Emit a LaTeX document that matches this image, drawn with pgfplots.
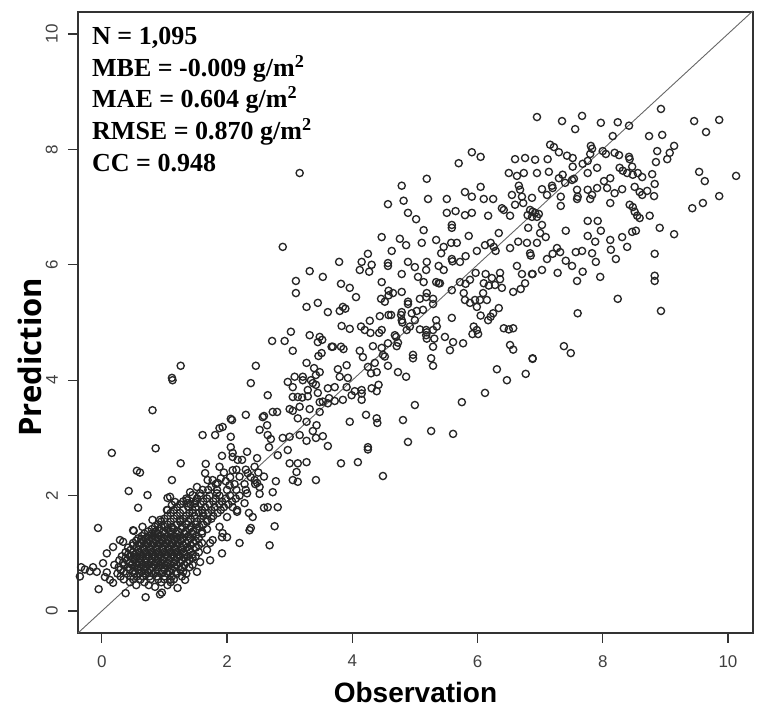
\documentclass[border=0pt]{standalone}
\usepackage{fontspec}
\setmainfont{Liberation Serif}
\newfontfamily\arial{Liberation Sans}
\newfontfamily\opensans{Open Sans}
\usepackage{pgfplots}
\pgfplotsset{compat=1.18}
\usepackage{pgfplotstable}
\pgfplotstableread{
x y
6.95 8.56
7.35 8.49
7.67 8.58
7.56 8.35
7.97 8.46
8.24 8.47
8.42 8.41
8.93 8.70
9.46 8.49
9.86 8.51
9.65 8.30
8.74 8.23
8.95 8.25
8.16 8.23
9.14 8.06
8.87 7.97
9.03 7.83
8.85 7.78
9.07 7.94
9.54 7.61
9.63 7.45
10.13 7.54
9.86 7.19
9.60 7.07
9.43 6.98
7.16 8.08
7.22 8.04
7.30 7.95
6.92 7.82
7.12 7.83
7.43 7.89
7.52 7.85
7.81 8.06
7.83 8.01
7.80 7.92
8.00 7.97
8.05 7.92
8.19 7.94
8.26 7.90
8.42 7.87
8.43 7.83
6.95 7.59
7.14 7.61
7.30 7.50
7.36 7.56
7.52 7.70
7.54 7.49
7.68 7.75
7.76 7.80
7.91 7.68
7.76 7.59
8.02 7.45
8.12 7.50
8.27 7.68
8.32 7.63
8.39 7.59
8.47 7.70
8.48 7.56
8.56 7.59
8.63 7.52
8.79 7.57
8.83 7.40
7.03 7.31
7.19 7.37
7.20 7.33
7.40 7.42
7.51 7.47
7.11 7.21
7.33 7.18
7.59 7.30
7.60 7.18
7.59 7.14
7.76 7.30
7.83 7.21
7.80 7.14
7.91 7.33
8.07 7.33
8.19 7.24
8.31 7.31
8.51 7.35
8.59 7.26
8.63 7.21
8.71 7.28
8.82 7.19
8.12 7.07
8.43 7.04
8.48 7.00
8.51 6.92
8.55 6.85
8.59 6.81
8.75 6.85
6.87 7.16
6.88 6.92
6.98 6.88
7.03 6.69
7.33 7.02
7.41 6.59
7.00 6.55
7.09 6.48
6.95 6.38
7.76 6.76
7.92 6.76
7.97 6.59
7.76 6.50
7.88 6.40
8.12 6.43
8.31 6.48
8.47 6.57
8.53 6.59
8.91 6.64
9.14 6.53
8.39 6.31
8.13 6.26
8.21 6.10
8.83 6.19
7.57 6.22
7.67 6.24
7.83 6.20
7.89 6.05
7.41 6.07
7.51 5.98
7.27 6.29
7.32 6.22
7.20 6.19
7.11 6.10
7.03 5.91
6.88 5.84
7.28 5.86
7.68 5.88
7.96 5.79
7.59 5.72
8.83 5.81
8.83 5.72
8.24 5.41
6.87 6.83
6.80 6.86
7.60 5.16
8.93 5.20
7.38 4.59
7.49 4.47
6.88 4.37
5.91 7.95
6.05 7.87
5.70 7.76
6.60 7.83
6.76 7.85
5.19 7.49
4.79 7.37
6.50 7.59
6.63 7.54
6.74 7.59
6.05 7.35
5.80 7.26
5.91 7.18
6.10 7.14
6.25 7.14
6.66 7.37
6.68 7.30
6.55 7.21
6.71 7.18
5.21 7.14
5.51 7.14
4.82 7.11
4.57 7.05
4.89 6.90
5.02 6.79
5.14 6.60
5.51 6.90
5.65 6.93
5.80 6.86
5.91 6.90
6.17 6.85
6.39 6.98
6.42 6.95
6.52 6.85
6.60 7.04
6.73 7.07
6.84 6.95
6.92 6.90
6.95 6.83
5.59 6.69
5.59 6.64
6.34 6.55
6.21 6.38
6.81 6.64
5.86 6.50
5.34 6.43
5.46 6.31
5.58 6.38
5.67 6.38
5.42 6.20
4.47 6.48
4.76 6.45
4.86 6.34
5.11 6.38
4.63 6.24
4.25 6.19
6.12 6.34
6.26 6.31
6.29 6.24
6.52 6.29
6.65 6.40
6.79 6.38
6.84 6.20
6.85 6.16
5.99 6.24
5.81 6.15
5.59 6.10
5.60 6.06
5.72 6.05
5.38 5.98
5.46 5.91
5.19 6.05
5.18 5.91
5.00 5.96
4.89 6.05
4.57 6.03
4.57 5.98
4.31 6.00
4.15 6.05
4.12 5.91
4.27 5.88
3.79 6.05
3.32 5.89
3.53 5.79
4.47 5.70
4.79 5.84
5.05 5.79
5.14 5.70
5.34 5.70
5.38 5.68
5.72 5.70
5.88 5.74
5.97 5.86
6.13 5.84
6.23 5.77
6.36 5.86
6.36 5.75
6.28 5.65
6.10 5.68
6.18 5.64
6.39 5.60
6.57 5.53
6.69 5.58
6.63 5.98
6.71 5.84
6.87 5.84
6.76 5.68
3.82 5.67
3.96 5.60
4.06 5.44
4.58 5.55
4.65 5.51
4.79 5.53
4.46 5.41
4.52 5.36
4.58 5.47
4.89 5.36
4.89 5.32
4.79 5.18
4.78 5.13
4.95 5.16
5.03 5.20
5.13 5.22
5.08 5.41
5.18 5.44
5.29 5.41
5.19 5.51
5.29 5.32
5.40 5.68
5.59 5.56
5.81 5.67
5.78 5.51
5.80 5.39
5.88 5.34
5.96 5.39
5.99 5.27
6.04 5.39
6.09 5.51
6.15 5.39
6.34 5.25
6.25 5.16
6.17 5.04
6.21 5.10
6.05 5.12
6.42 4.90
6.50 4.88
6.57 4.90
5.99 4.87
5.94 4.93
5.92 4.80
5.59 5.08
5.34 5.04
5.18 4.87
5.19 4.83
5.29 4.87
5.35 4.93
5.00 5.04
4.92 4.93
5.08 4.88
4.79 5.04
4.80 5.00
4.87 4.87
4.58 5.13
4.62 5.13
4.44 5.11
4.47 4.87
4.43 4.82
4.28 5.03
4.29 4.82
4.14 4.93
4.20 4.87
3.96 4.89
3.83 4.94
3.85 5.27
3.89 5.24
3.80 5.20
3.61 5.18
3.45 5.34
3.27 5.27
3.32 4.78
3.48 4.75
3.16 7.59
3.69 4.58
3.82 4.58
3.86 4.54
4.12 4.51
4.17 4.40
4.33 4.59
4.47 4.56
4.57 4.64
4.71 4.59
4.73 4.65
4.70 4.75
4.68 4.78
4.49 4.44
4.52 4.41
4.97 4.44
4.97 4.38
5.18 4.78
5.19 4.72
5.29 4.58
5.31 4.72
5.48 4.75
5.61 4.66
5.77 4.64
5.56 4.52
5.26 4.38
5.29 4.25
6.01 4.80
6.52 4.61
6.57 4.53
6.88 4.38
6.31 4.19
6.47 4.00
6.77 4.11
6.12 3.78
5.75 3.62
5.00 3.57
4.81 3.31
5.26 3.12
5.61 3.07
4.89 2.93
4.49 2.34
4.39 3.34
4.40 3.26
4.22 3.40
3.96 3.28
4.25 2.84
4.25 2.80
4.09 2.58
3.82 2.56
3.61 2.86
3.42 2.27
3.27 2.95
3.42 3.00
3.53 3.03
3.37 3.12
3.43 3.22
3.32 3.50
3.27 4.30
3.39 4.21
3.48 4.14
3.42 4.09
3.21 4.06
3.37 3.95
3.29 3.83
3.29 3.72
3.45 3.78
3.48 3.62
3.53 3.63
3.77 4.19
3.91 4.26
3.80 4.06
3.93 4.04
3.72 3.88
3.91 3.88
4.04 3.81
4.15 3.83
4.15 3.77
4.31 3.86
4.42 3.92
4.39 3.81
3.99 3.74
4.15 3.66
3.72 3.64
3.85 3.66
4.25 4.23
4.36 4.30
4.39 4.14
4.30 4.12
4.57 4.25
4.73 4.14
4.86 4.06
2.89 6.31
3.10 5.72
3.10 5.51
3.02 4.84
2.72 4.68
2.92 4.68
3.45 4.66
3.52 4.70
3.05 4.51
3.67 4.58
3.51 4.47
3.46 4.42
2.46 4.25
1.26 4.25
1.12 4.04
2.38 3.95
2.97 3.97
3.08 4.06
3.21 4.00
3.05 3.88
3.20 3.70
3.34 4.00
3.42 3.92
2.65 3.74
3.05 3.71
3.48 3.45
3.61 3.86
3.63 3.69
3.61 3.60
3.00 3.50
3.05 3.47
2.73 3.45
2.59 3.38
2.30 3.40
2.06 3.33
1.13 4.00
3.13 3.71
0.81 3.48
2.08 3.31
2.57 3.36
2.80 3.45
3.16 3.54
3.27 3.28
1.81 3.05
1.88 3.17
1.93 3.19
1.61 3.05
2.06 3.02
2.06 2.84
2.52 3.14
2.64 3.22
2.65 3.05
2.70 2.98
2.89 3.00
3.00 3.02
3.16 3.05
3.13 3.34
2.67 2.84
2.97 2.79
2.81 2.70
3.00 2.56
3.13 2.56
3.11 2.41
3.27 2.58
2.24 2.62
2.09 2.67
2.32 2.76
2.48 2.65
2.44 2.50
2.59 2.33
2.78 2.25
3.05 2.27
3.13 2.24
2.52 2.15
2.44 2.27
2.73 2.06
2.52 2.03
2.32 2.04
2.81 1.80
2.59 1.79
2.65 1.80
2.35 1.70
2.09 1.80
2.16 1.72
2.38 1.44
2.76 1.47
1.92 1.00
2.20 1.18
2.68 1.14
2.00 1.28
1.88 1.46
2.00 1.63
1.12 2.27
1.26 2.56
0.16 2.74
0.86 2.82
0.56 2.43
0.61 2.40
0.43 2.08
0.73 2.01
0.58 1.79
-0.06 1.44
1.09 1.98
1.17 1.89
1.04 1.75
1.37 1.87
1.45 2.01
1.52 2.15
1.61 2.10
1.69 2.27
1.75 2.15
1.84 2.04
1.45 1.70
1.61 1.70
1.69 1.58
1.25 1.58
0.93 1.58
0.65 1.46
0.50 1.40
0.29 1.23
0.18 1.11
0.08 1.00
0.02 0.83
-0.14 0.76
-0.33 0.76
-0.27 0.72
-0.19 0.69
-0.08 0.68
-0.35 0.60
-0.05 0.38
0.08 0.67
0.05 0.59
0.13 0.54
0.18 0.49
0.38 0.31
0.70 0.24
0.93 0.29
0.96 0.32
1.21 0.40
1.09 0.54
1.33 0.54
1.52 0.68
1.57 0.85
1.73 0.88
1.68 1.06
1.77 1.23
1.92 1.28
1.66 2.55
1.65 2.39
1.77 2.27
1.88 2.50
1.92 2.69
2.09 2.74
2.17 2.62
2.09 2.44
2.20 2.33
2.33 2.39
2.48 2.22
2.04 2.18
1.84 2.10
1.57 2.04
1.41 2.06
1.36 1.92
1.49 1.87
1.05 1.96
1.12 1.84
1.05 1.75
0.81 1.58
2.28 1.87
2.16 1.75
2.36 1.40
2.41 1.63
1.93 1.35
1.73 1.18
0.51 1.39
0.63 1.25
0.34 1.20
0.55 0.45
0.75 0.45
0.85 0.42
1.05 0.45
0.35 0.55
0.50 0.55
0.62 0.55
0.78 0.55
0.90 0.55
1.00 0.55
1.15 0.55
0.25 0.65
0.40 0.65
0.52 0.65
0.60 0.65
0.70 0.65
0.82 0.65
0.95 0.65
1.05 0.65
1.20 0.65
1.35 0.65
0.30 0.72
0.45 0.72
0.58 0.72
0.68 0.72
0.77 0.72
0.88 0.72
1.00 0.72
1.12 0.72
1.25 0.72
0.20 0.80
0.35 0.80
0.48 0.80
0.56 0.80
0.65 0.80
0.74 0.80
0.83 0.80
0.92 0.80
1.02 0.80
1.10 0.80
1.20 0.80
1.32 0.80
1.45 0.80
0.28 0.88
0.40 0.88
0.52 0.88
0.62 0.88
0.70 0.88
0.80 0.88
0.90 0.88
0.98 0.88
1.08 0.88
1.18 0.88
1.28 0.88
1.40 0.88
0.32 0.95
0.45 0.95
0.55 0.95
0.65 0.95
0.75 0.95
0.85 0.95
0.95 0.95
1.05 0.95
1.15 0.95
1.25 0.95
1.38 0.95
1.50 0.95
0.38 1.02
0.50 1.02
0.60 1.02
0.70 1.02
0.80 1.02
0.90 1.02
1.00 1.02
1.10 1.02
1.20 1.02
1.30 1.02
1.42 1.02
1.55 1.02
0.42 1.10
0.55 1.10
0.66 1.10
0.76 1.10
0.86 1.10
0.96 1.10
1.06 1.10
1.16 1.10
1.26 1.10
1.36 1.10
1.50 1.10
0.50 1.18
0.62 1.18
0.72 1.18
0.82 1.18
0.92 1.18
1.02 1.18
1.12 1.18
1.22 1.18
1.34 1.18
1.46 1.18
1.60 1.18
0.58 1.26
0.70 1.26
0.80 1.26
0.90 1.26
1.00 1.26
1.10 1.26
1.20 1.26
1.30 1.26
1.42 1.26
1.55 1.26
0.68 1.34
0.80 1.34
0.90 1.34
1.00 1.34
1.10 1.34
1.20 1.34
1.32 1.34
1.45 1.34
1.60 1.34
0.80 1.42
0.92 1.42
1.05 1.42
1.15 1.42
1.27 1.42
1.40 1.42
1.52 1.42
1.68 1.42
0.90 1.50
1.05 1.50
1.20 1.50
1.35 1.50
1.50 1.50
1.62 1.50
1.00 1.60
1.15 1.60
1.30 1.60
1.42 1.60
1.58 1.60
1.75 1.60
1.10 1.70
1.25 1.70
1.40 1.70
1.55 1.70
1.70 1.70
1.85 1.70
1.20 1.80
1.38 1.80
1.50 1.80
1.65 1.80
1.80 1.80
1.95 1.80
1.30 1.90
1.50 1.90
1.62 1.90
1.78 1.90
1.92 1.90
2.08 1.90
1.58 2.00
1.72 2.00
1.88 2.00
2.05 2.00
2.20 2.00
1.70 2.10
1.85 2.22
2.00 2.10
2.15 2.10
2.30 2.10
1.82 2.20
1.98 2.25
2.12 2.20
2.28 2.20
2.45 2.20
1.90 2.30
2.05 2.32
2.38 2.32
1.95 2.40
2.15 2.45
2.30 2.45
2.50 2.40
0.45 0.50
0.68 0.50
0.95 0.50
1.10 0.50
0.30 0.60
0.46 0.60
0.56 0.60
0.66 0.60
0.76 0.60
0.88 0.60
1.00 0.60
1.12 0.60
1.28 0.60
0.35 0.68
0.50 0.68
0.64 0.68
0.74 0.68
0.86 0.68
0.98 0.68
1.08 0.68
1.18 0.68
1.30 0.68
0.27 0.76
0.42 0.76
0.52 0.76
0.62 0.76
0.70 0.76
0.80 0.76
0.90 0.76
0.98 0.76
1.06 0.76
1.16 0.76
1.28 0.76
1.40 0.76
0.34 0.84
0.45 0.84
0.55 0.84
0.60 0.84
0.70 0.84
0.78 0.84
0.86 0.84
0.95 0.84
1.05 0.84
1.15 0.84
1.25 0.84
1.36 0.84
0.38 0.92
0.50 0.92
0.60 0.92
0.70 0.92
0.80 0.92
0.90 0.92
1.00 0.92
1.10 0.92
1.20 0.92
1.32 0.92
1.45 0.92
0.42 0.98
0.52 0.98
0.62 0.98
0.72 0.98
0.82 0.98
0.92 0.98
1.02 0.98
1.12 0.98
1.22 0.98
1.32 0.98
1.45 0.98
0.46 1.06
0.58 1.06
0.68 1.06
0.78 1.06
0.88 1.06
0.98 1.06
1.08 1.06
1.18 1.06
1.28 1.06
1.40 1.06
0.50 1.14
0.60 1.14
0.70 1.14
0.80 1.14
0.90 1.14
1.00 1.14
1.10 1.14
1.20 1.14
1.30 1.14
1.42 1.14
1.55 1.14
0.55 1.22
0.66 1.22
0.76 1.22
0.86 1.22
0.96 1.22
1.06 1.22
1.16 1.22
1.26 1.22
1.38 1.22
1.50 1.22
0.64 1.30
0.75 1.30
0.85 1.30
0.95 1.30
1.05 1.30
1.15 1.30
1.25 1.30
1.38 1.30
1.50 1.30
0.74 1.38
0.86 1.38
0.98 1.38
1.10 1.38
1.22 1.38
1.34 1.38
1.46 1.38
1.60 1.38
0.85 1.46
1.00 1.46
1.12 1.46
1.28 1.46
1.42 1.46
1.56 1.46
0.95 1.55
1.10 1.55
1.25 1.55
1.38 1.55
1.52 1.55
1.68 1.55
1.05 1.65
1.20 1.65
1.35 1.65
1.48 1.65
1.62 1.65
1.78 1.65
1.15 1.75
1.30 1.75
1.45 1.75
1.60 1.75
1.75 1.75
1.90 1.75
1.25 1.85
1.42 1.85
1.58 1.85
1.72 1.85
1.88 1.85
2.02 1.85
1.35 1.95
1.52 1.95
1.68 1.95
1.82 1.95
1.98 1.95
2.14 1.95
}\obsdata
\begin{document}
\begin{tikzpicture}
\begin{axis}[
  scale only axis, width=675pt, height=621pt,
  xmin=-0.38, xmax=10.40, ymin=-0.38, ymax=10.38,
  clip=false,
  axis line style={draw=black!80, line width=1.2pt},
  xtick={0,2,4,6,8,10}, ytick={0,2,4,6,8,10},
  tick align=outside, tick pos=left,
  major tick length=10pt,
  every tick/.append style={draw=black!80, line width=1.2pt},
  /pgf/number format/assume math mode=true,
  tick label style={font=\arial\fontsize{17}{17}\selectfont, text=black!75, inner sep=0pt},
  yticklabel style={rotate=90, anchor=south, yshift=10pt},
  xticklabel style={anchor=north, yshift=-12pt},
  xlabel={Observation},
  xlabel style={font=\arial\bfseries\fontsize{28}{28}\selectfont, at={(rel axis cs:0.5,0)}, anchor=base, yshift=-69pt},
]
\addplot[draw=black!60, line width=0.9pt] coordinates {(-0.38,-0.38) (10.40,10.40)};
\addplot[only marks, mark=o, mark size=3.6pt, draw=black!85, mark options={line width=1.35pt}] table[x=x, y=y] {\obsdata};
\coordinate (sw) at (rel axis cs:0,0);
\coordinate (ne) at (rel axis cs:1,1);
\node[rotate=90, anchor=base, font=\opensans\bfseries\fontsize{31}{31}\selectfont] at ([xshift=-36pt]rel axis cs:0,0.444) {Prediction};
\begin{scope}[every node/.style={anchor=base west, inner sep=0pt, font=\bfseries\fontsize{26}{26}\selectfont}]
\node at ([xshift=14pt, yshift=-33pt]rel axis cs:0,1) {N = 1,095};
\node at ([xshift=14pt, yshift=-65pt]rel axis cs:0,1) {MBE = -0.009 g/m\textsuperscript{2}};
\node at ([xshift=14pt, yshift=-96pt]rel axis cs:0,1) {MAE = 0.604 g/m\textsuperscript{2}};
\node at ([xshift=14pt, yshift=-128pt]rel axis cs:0,1) {RMSE = 0.870 g/m\textsuperscript{2}};
\node at ([xshift=14pt, yshift=-160pt]rel axis cs:0,1) {CC = 0.948};
\end{scope}
\end{axis}
\path ([shift={(-78pt,-76pt)}]sw) rectangle ([shift={(20pt,12pt)}]ne);
\end{tikzpicture}
\end{document}
